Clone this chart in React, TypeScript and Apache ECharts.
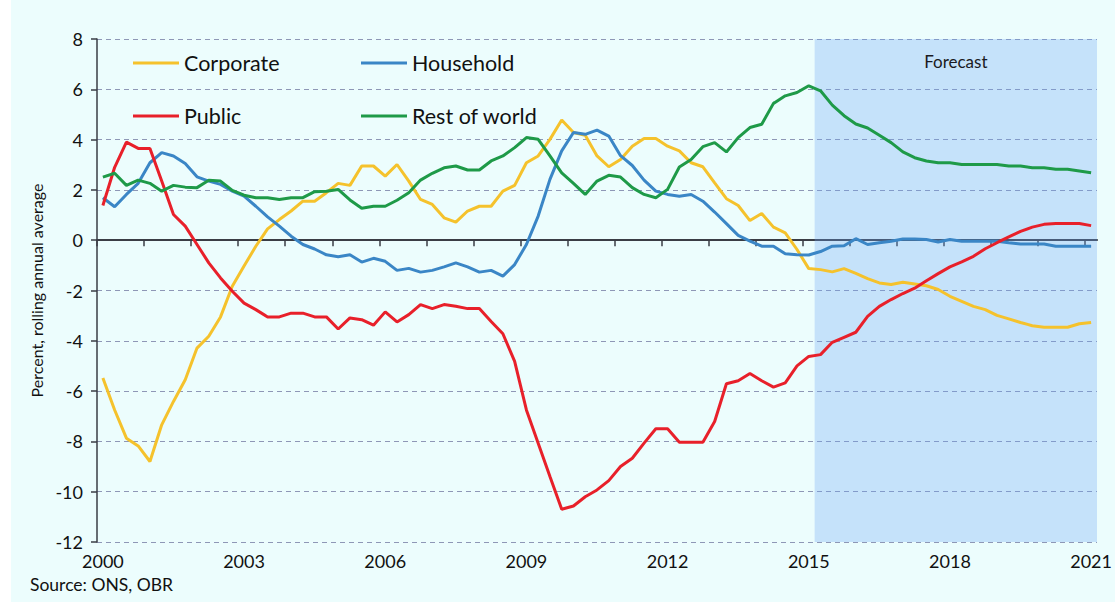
import React, { useEffect, useRef } from "react";
import * as echarts from "echarts";

// Quarterly, 2000 Q1 .. 2021 Q1
const quarters: string[] = [];
for (let y = 2000; y <= 2021; y++) {
  for (let q = 1; q <= 4; q++) {
    if (y === 2021 && q > 1) break;
    quarters.push(`${y} Q${q}`);
  }
}

const corporate = [
  -5.48, -6.75, -7.87, -8.18, -8.8, -7.34, -6.41, -5.55, -4.29, -3.82,
  -3.05, -1.83, -1.03, -0.24, 0.45, 0.82, 1.16, 1.55, 1.55, 1.89,
  2.26, 2.18, 2.95, 2.95, 2.55, 3.01, 2.35, 1.62, 1.42, 0.89,
  0.72, 1.16, 1.35, 1.35, 1.95, 2.18, 3.08, 3.35, 4.01, 4.78,
  4.28, 4.17, 3.35, 2.92, 3.21, 3.74, 4.04, 4.04, 3.74, 3.55,
  3.08, 2.92, 2.28, 1.65, 1.38, 0.78, 1.06, 0.52, 0.29, -0.37,
  -1.13, -1.17, -1.26, -1.13, -1.32, -1.53, -1.7, -1.76, -1.67, -1.74,
  -1.81, -1.96, -2.23, -2.43, -2.63, -2.76, -2.99, -3.13, -3.27, -3.4,
  -3.46, -3.46, -3.46, -3.32, -3.27,
];

const household = [
  1.69, 1.33, 1.82, 2.26, 3.08, 3.48, 3.35, 3.05, 2.52, 2.35,
  2.22, 1.95, 1.75, 1.35, 0.93, 0.56, 0.16, -0.17, -0.35, -0.58,
  -0.66, -0.58, -0.87, -0.72, -0.84, -1.2, -1.12, -1.27, -1.2, -1.06,
  -0.9, -1.06, -1.27, -1.2, -1.43, -0.97, -0.17, 0.96, 2.42, 3.55,
  4.28, 4.21, 4.38, 4.14, 3.36, 2.97, 2.39, 1.95, 1.82, 1.75,
  1.82, 1.55, 1.12, 0.66, 0.19, -0.04, -0.24, -0.24, -0.54, -0.58,
  -0.59, -0.45, -0.24, -0.22, 0.06, -0.17, -0.1, -0.04, 0.05, 0.05,
  0.03, -0.07, 0.03, -0.04, -0.04, -0.04, -0.04, -0.1, -0.15, -0.15,
  -0.15, -0.24, -0.24, -0.24, -0.24,
];

const publicSector = [
  1.38, 2.9, 3.9, 3.65, 3.65, 2.35, 1.02, 0.56, -0.17, -0.9,
  -1.5, -2.03, -2.5, -2.76, -3.05, -3.05, -2.9, -2.9, -3.05, -3.05,
  -3.53, -3.09, -3.16, -3.38, -2.85, -3.25, -2.96, -2.56, -2.72, -2.56,
  -2.63, -2.72, -2.72, -3.23, -3.72, -4.82, -6.75, -8.07, -9.4, -10.7,
  -10.57, -10.2, -9.93, -9.56, -9.0, -8.67, -8.07, -7.5, -7.5, -8.03,
  -8.03, -8.03, -7.21, -5.71, -5.59, -5.3, -5.59, -5.84, -5.67, -5.0,
  -4.62, -4.55, -4.06, -3.86, -3.66, -3.03, -2.63, -2.36, -2.12, -1.91,
  -1.61, -1.33, -1.06, -0.86, -0.64, -0.34, -0.1, 0.13, 0.35, 0.52,
  0.63, 0.66, 0.66, 0.66, 0.58,
];

const restOfWorld = [
  2.51, 2.66, 2.18, 2.39, 2.26, 1.95, 2.18, 2.11, 2.09, 2.38,
  2.35, 1.98, 1.79, 1.69, 1.69, 1.62, 1.69, 1.69, 1.93, 1.95,
  2.02, 1.6, 1.27, 1.35, 1.35, 1.59, 1.89, 2.39, 2.66, 2.88,
  2.95, 2.79, 2.79, 3.15, 3.35, 3.68, 4.08, 4.01, 3.35, 2.68,
  2.26, 1.82, 2.35, 2.58, 2.51, 2.09, 1.82, 1.69, 2.02, 2.91,
  3.21, 3.72, 3.88, 3.51, 4.08, 4.48, 4.61, 5.44, 5.74, 5.87,
  6.14, 5.94, 5.37, 4.95, 4.62, 4.46, 4.17, 3.88, 3.51, 3.28,
  3.15, 3.08, 3.08, 3.01, 3.01, 3.01, 3.01, 2.95, 2.95, 2.88,
  2.88, 2.82, 2.82, 2.75, 2.68,
];

const seriesNames = ["Corporate", "Household", "Public", "Rest of world"];
const seriesColors = ["#F5C22C", "#3A86C6", "#E8202A", "#1E9A48"];
const yTicks = { min: -12, max: 8, interval: 2 };
const forecastStartQuarter = 61; // 2015 Q2
const yearTickPositions: number[] = [];
for (let i = 0; i <= 84; i += 4) yearTickPositions.push(i);

const FONT = "Lato, 'DejaVu Sans', sans-serif";

export default function App() {
  const ref = useRef<HTMLDivElement>(null);

  useEffect(() => {
    if (!ref.current) return;
    const chart = echarts.init(ref.current, undefined, { renderer: "svg" });
    const allData = [corporate, household, publicSector, restOfWorld];
    const n = quarters.length;

    const legendPos = [
      { left: 122, top: 51 },
      { left: 350, top: 51 },
      { left: 122, top: 104 },
      { left: 350, top: 104 },
    ];

    const option: any = {
      animation: false,
      backgroundColor: "#ECFDFD",
      textStyle: { fontFamily: FONT },
      title: {
        text: "Source: ONS, OBR",
        left: 19,
        top: 575,
        padding: 0,
        textStyle: { fontSize: 17.5, fontWeight: "normal", color: "#111", fontFamily: FONT },
      },
      legend: seriesNames.map((name, k) => ({
        data: [name],
        left: legendPos[k].left,
        top: legendPos[k].top,
        padding: 0,
        icon: "rect",
        itemWidth: 46,
        itemHeight: 3,
        textStyle: { fontSize: 21.5, color: "#111", fontFamily: FONT, lineHeight: 24 },
      })),
      grid: { left: 86, top: 39, width: 1000, height: 503, containLabel: false },
      xAxis: [
        {
          type: "category",
          data: quarters,
          boundaryGap: true,
          position: "bottom",
          axisLine: { show: false, onZero: false },
          axisTick: { show: false },
          splitLine: { show: false },
          axisLabel: {
            interval: 11,
            margin: 10,
            fontSize: 18,
            color: "#111",
            fontFamily: FONT,
            formatter: (v: string) => v.slice(0, 4),
          },
        },
        {
          type: "value",
          min: 0,
          max: n,
          position: "top",
          axisLine: { show: true, onZero: true, lineStyle: { color: "#3a3d45", width: 2 } },
          axisTick: {
            show: true,
            inside: true,
            length: 6,
            customValues: yearTickPositions,
            lineStyle: { color: "#3a3d45", width: 1.5 },
          },
          axisLabel: { show: false },
          splitLine: { show: false },
        },
      ],
      yAxis: {
        type: "value",
        min: yTicks.min,
        max: yTicks.max,
        interval: yTicks.interval,
        name: "Percent, rolling annual average",
        nameLocation: "middle",
        nameGap: 52,
        nameTextStyle: { fontSize: 16, color: "#111", fontFamily: FONT },
        axisLine: { show: true, onZero: false, lineStyle: { color: "#3a3d45", width: 1.5 } },
        axisTick: { show: true, length: 6, lineStyle: { color: "#3a3d45", width: 1.5 } },
        axisLabel: { fontSize: 18, color: "#111", margin: 14, fontFamily: FONT },
        splitLine: { show: true, lineStyle: { color: "#8E97B6", type: [5, 4], width: 1 } },
      },
      series: seriesNames.map((name, k) => ({
        name,
        type: "line",
        xAxisIndex: 1,
        yAxisIndex: 0,
        symbol: "none",
        data: allData[k].map((v, i) => [i + 0.5, v]),
        lineStyle: { color: seriesColors[k], width: 3 },
        itemStyle: { color: seriesColors[k] },
        z: 3 + k,
        markArea:
          k === 0
            ? {
                silent: true,
                itemStyle: { color: "rgba(106,166,244,0.30)" },
                label: {
                  show: true,
                  position: "insideTop",
                  distance: 14,
                  formatter: "Forecast",
                  fontSize: 17,
                  color: "#1a1a22",
                  fontFamily: FONT,
                },
                data: [[{ xAxis: forecastStartQuarter }, { xAxis: n }]],
              }
            : undefined,
      })),
    };

    chart.setOption(option);
    return () => chart.dispose();
  }, []);

  return (
    <div
      ref={ref}
      style={{ position: "fixed", left: 11, top: 0, width: 1104, height: 602 }}
    />
  );
}
